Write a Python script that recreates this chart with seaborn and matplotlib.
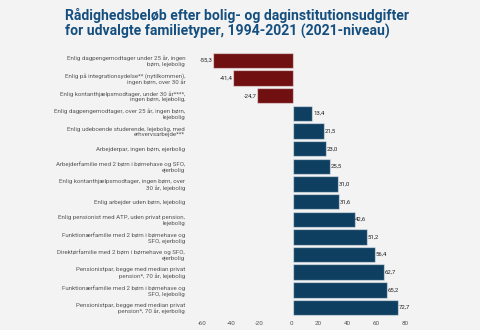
import matplotlib
matplotlib.use("Agg")
import matplotlib.pyplot as plt
import seaborn as sns
import pandas as pd

categories = [
    "Enlig dagpengemodtager under 25 år, ingen\nbørn, lejebolig",
    "Enlig på integrationsydelse** (nytilkommen),\ningen børn, over 30 år",
    "Enlig kontanthjælpsmodtager, under 30 år****,\ningen børn, lejebolig,",
    "Enlig dagpengemodtager, over 25 år, ingen børn,\nlejebolig",
    "Enlig udeboende studerende, lejebolig, med\nerhvervsarbejde***",
    "Arbejderpar, ingen børn, ejerbolig",
    "Arbejderfamilie med 2 børn i børnehave og SFO,\nejerbolig",
    "Enlig kontanthjælpsmodtager, ingen børn, over\n30 år, lejebolig",
    "Enlig arbejder uden børn, lejebolig",
    "Enlig pensionist med ATP, uden privat pension,\nlejebolig",
    "Funktionærfamilie med 2 børn i børnehave og\nSFO, ejerbolig",
    "Direktørfamilie med 2 børn i børnehave og SFO,\nejerbolig",
    "Pensionistpar, begge med median privat\npension*, 70 år, lejebolig",
    "Funktionærfamilie med 2 børn i børnehave og\nSFO, lejebolig",
    "Pensionistpar, begge med median privat\npension*, 70 år, ejerbolig",
]
values = [-55.3, -41.4, -24.7, 13.4, 21.5, 23.0, 25.5, 31.0, 31.6, 42.6,
          51.2, 56.4, 62.7, 65.2, 72.7]
x_ticks = [-60, -40, -20, 0, 20, 40, 60, 80]
title = "Rådighedsbeløb efter bolig- og daginstitutionsudgifter\nfor udvalgte familietyper, 1994-2021 (2021-niveau)"

df = pd.DataFrame({"cat": categories, "val": values})
df["sign"] = ["neg" if v < 0 else "pos" for v in values]

sns.set_theme(style="white")
plt.rcParams["font.family"] = ["Roboto", "DejaVu Sans"]

bg = "#f3f3f3"
fig = plt.figure(figsize=(4.8, 3.3), dpi=100, facecolor=bg)
ax = fig.add_axes([0.4148, 0.036, 0.4515, 0.813])
ax.set_facecolor(bg)

sns.barplot(data=df, x="val", y="cat", hue="sign", order=categories,
            palette={"neg": "#800000", "pos": "#00426e"}, width=0.88,
            edgecolor=(1, 1, 1, 0.5), linewidth=0.9, legend=False,
            orient="h", ax=ax)

for i, v in enumerate(values):
    s = f"{v:.1f}".replace(".", ",")
    if v < 0:
        ax.text(v - 0.5, i, s, ha="right", va="center", fontsize=4.3, color="#222222")
    else:
        ax.text(v + 0.5, i, s, ha="left", va="center", fontsize=4.3, color="#222222")

ax.set_xlim(-65, 85)
ax.set_ylim(14.6, -0.6)
ax.set_xticks(x_ticks)
ax.set_xticklabels([str(t) for t in x_ticks], ha="right")
ax.set_xlabel("")
ax.set_ylabel("")
ax.tick_params(axis="x", length=0, pad=2, labelsize=4.5, labelcolor="#555555")
ax.tick_params(axis="y", length=0, pad=10, labelsize=4.4, labelcolor="#555555")
for lab in ax.get_yticklabels():
    lab.set_horizontalalignment("right")
    lab.set_multialignment("right")
    lab.set_linespacing(1.2)
for sp in ax.spines.values():
    sp.set_visible(False)
ax.grid(False)

fig.text(0.135, 1 - 8 / 330, title, ha="left", va="top", fontsize=10.1,
         fontweight="bold", color="#154f7f", linespacing=1.1)

fig.savefig("out.png", dpi=100, facecolor=bg)
